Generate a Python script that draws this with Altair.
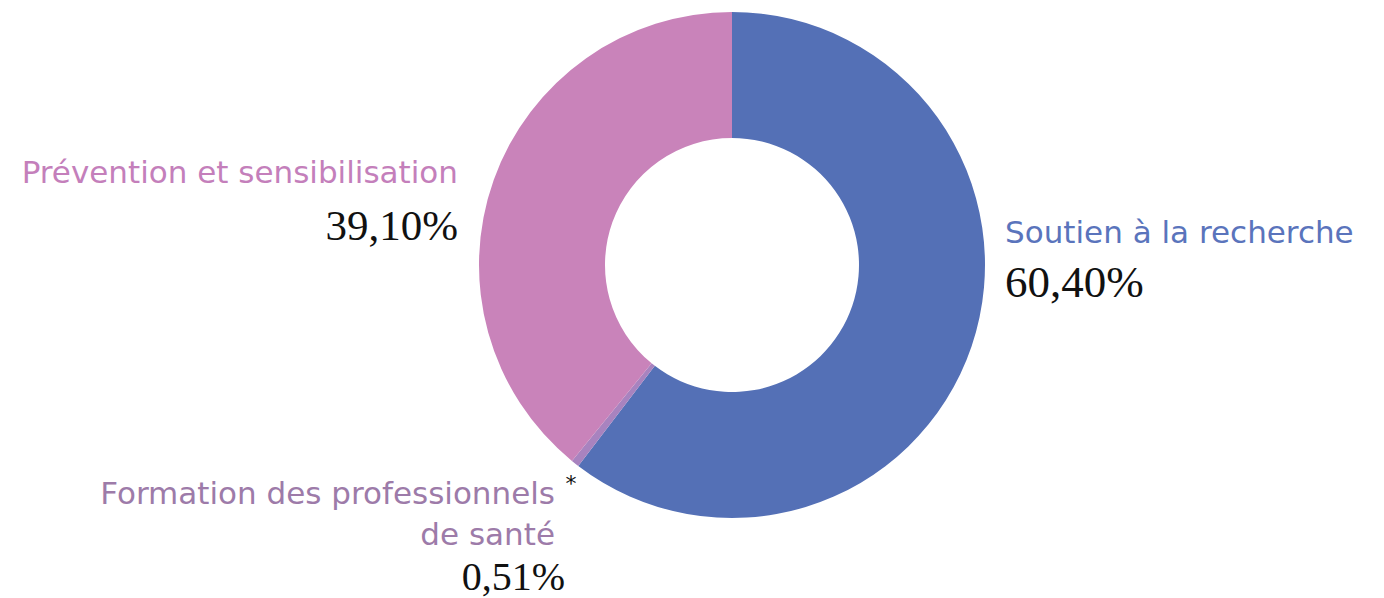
import altair as alt
import pandas as pd

categories = ["Soutien à la recherche", "Formation des professionnels de santé", "Prévention et sensibilisation"]
values = [60.40, 0.51, 39.10]
value_labels = ["60,40%", "0,51%", "39,10%"]
slice_colors = ["#5470b6", "#a883bf", "#c983ba"]
label_colors = ["#5a74bc", "#9d7ba9", "#c47fbb"]

df = pd.DataFrame({"cat": categories, "value": values, "idx": [0, 1, 2]})

W, H = 1384, 598
CX, CY = 732, 265

arc = alt.Chart(df).mark_arc(outerRadius=253, innerRadius=127).encode(
    theta=alt.Theta("value:Q", stack=True),
    color=alt.Color("cat:N", scale=alt.Scale(domain=categories, range=slice_colors), legend=None),
    order=alt.Order("idx:Q"),
    x=alt.value(CX),
    y=alt.value(CY),
)

SANS = "DejaVu Sans"
SERIF = "Liberation Serif"

def txt(text, x, y, align, color, size, font, weight="normal"):
    d = pd.DataFrame({"t": [text]})
    return alt.Chart(d).mark_text(
        align=align, baseline="alphabetic", font=font, fontSize=size,
        color=color, fontWeight=weight
    ).encode(text="t:N", x=alt.value(x), y=alt.value(y))

LS = 31
layers = [
    arc,
    txt("Soutien à la recherche", 1005, 243, "left", label_colors[0], LS, SANS),
    txt(value_labels[0], 1005, 297, "left", "#111111", 45, SERIF),
    txt("Prévention et sensibilisation", 458, 183, "right", label_colors[2], LS, SANS),
    txt(value_labels[2], 458, 240, "right", "#111111", 43, SERIF),
    txt("Formation des professionnels", 555, 504, "right", label_colors[1], LS, SANS),
    txt("*", 571, 491, "center", "#111111", 22, SANS),
    txt("de santé", 555, 545, "right", label_colors[1], LS, SANS),
    txt(value_labels[1], 565, 590, "right", "#111111", 40, SERIF),
]

chart = alt.layer(*layers).properties(
    width=W, height=H, padding=0, autosize=alt.AutoSizeParams(type="none"), background="white"
).configure_view(stroke=None)

chart.save("out.html", embed_options={"renderer": "svg", "actions": False})
